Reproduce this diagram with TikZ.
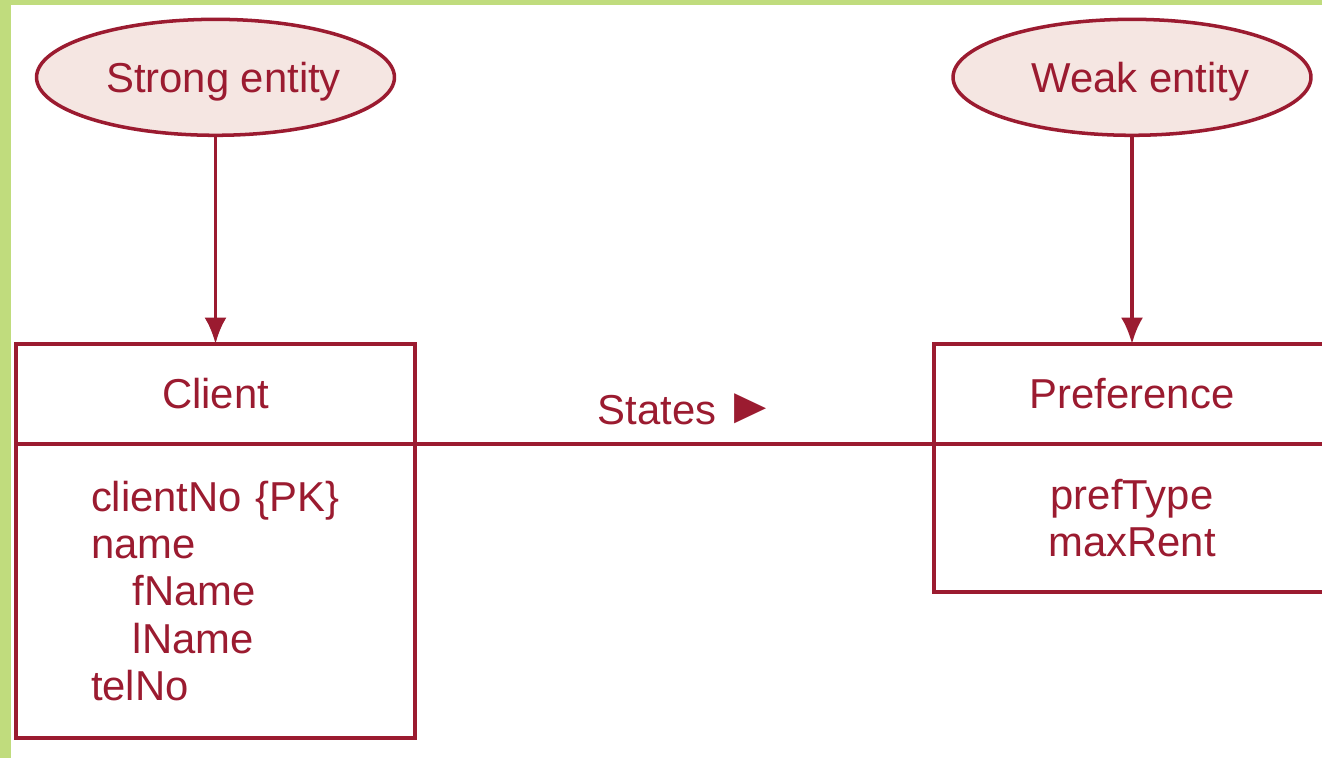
\documentclass[tikz,border=0pt]{standalone}
\usepackage{fontspec}
\setmainfont{Liberation Sans}
\newfontfamily\symfont{DejaVu Sans}
\usepackage{xcolor}
\usetikzlibrary{arrows.meta,positioning,shapes.geometric}
\definecolor{erred}{RGB}{155,27,48}
\definecolor{erpink}{RGB}{245,230,226}
\definecolor{framegreen}{RGB}{192,220,125}
\tikzset{%
	entity/.style  = {draw=erred, fill=erpink, ellipse, line width=2pt, text=erred, text depth=0pt, inner xsep=0pt, minimum width=7.16cm, minimum height=2.32cm},
	header/.style  = {draw=erred, rectangle, line width=2.1pt, text=erred, outer sep=0pt, minimum height=2cm},
	attrbox/.style = {draw=erred, rectangle, line width=2.1pt, text=erred, outer sep=0pt},
	arrow/.style   = {draw=erred, line width=2.1pt, -{Latex[length=15pt,width=12.5pt]}},
	link/.style    = {draw=erred, line width=2.1pt},
}

\begin{document}
\begin{tikzpicture}[x=0.02cm,y=-0.02cm,font=\fontsize{23.8}{27}\selectfont]
	\useasboundingbox (0,0) rectangle (1322,758);
	\clip (0,0) rectangle (1322,758);
	\fill[white] (0,0) rectangle (1322,758);
	% frame
	\fill[framegreen] (0,0) rectangle (1322,5);
	\fill[framegreen] (0,0) rectangle (11,758);
	% client
	\node[header, minimum width=7.98cm] (clienthead) at (215.5,394) {Client};
	\node[attrbox, below=0pt of clienthead, minimum height=5.88cm, text width=4.98cm, inner xsep=1.5cm, align=left] (clientattr)
		{clientNo \{PK\}\\name\\\hspace*{1em}fName\\\hspace*{1em}lName\\telNo};
	\node[entity, above=4.14cm of clienthead] (strong) {\hspace*{0.32cm}Strong entity};
	% preference
	\node[header, minimum width=7.92cm] (prefhead) at (1132,394) {Preference};
	\node[attrbox, below=0pt of prefhead, minimum width=7.92cm, minimum height=2.96cm, align=center] (prefattr)
		{prefType\\maxRent};
	\node[entity, above=4.14cm of prefhead] (weak) {\hspace*{0.34cm}Weak entity};
	% connectors
	\draw[arrow] (strong.south) -- (clienthead.north);
	\draw[arrow] (weak.south) -- (prefhead.north);
	\draw[link] (clienthead.south east) -- node[above=10pt, inner sep=0pt, xshift=0.16cm, text=erred] (states) {States \,{\symfont\scalebox{1}[1.45]{►}}} (prefhead.south west);
\end{tikzpicture}
\end{document}
